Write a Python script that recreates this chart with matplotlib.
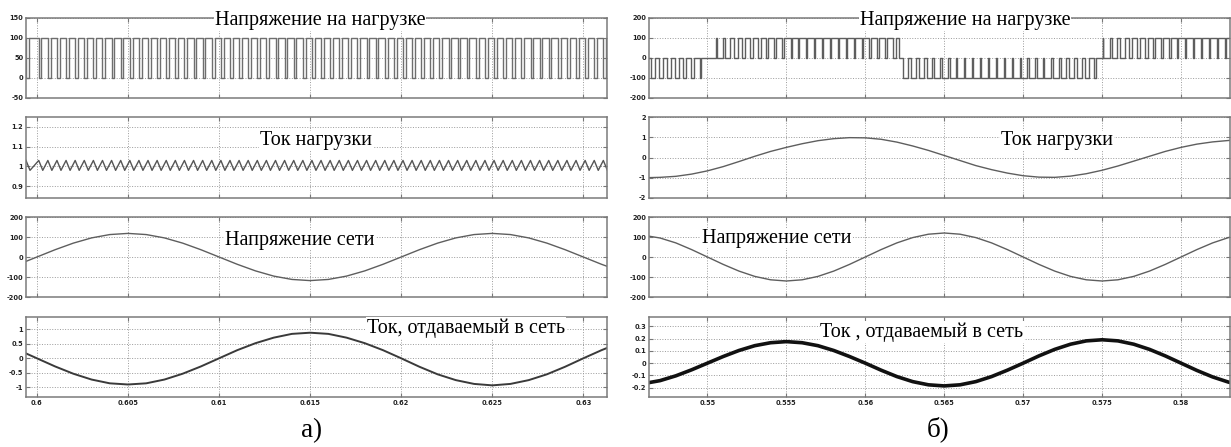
import numpy as np
import matplotlib.pyplot as plt

# ---------------- а) ----------------
# time grid of sampled (smooth) curves, 1 ms step
t_a = [0.599, 0.600, 0.601, 0.602, 0.603, 0.604, 0.605, 0.606, 0.607, 0.608,
       0.609, 0.610, 0.611, 0.612, 0.613, 0.614, 0.615, 0.616, 0.617, 0.618,
       0.619, 0.620, 0.621, 0.622, 0.623, 0.624, 0.625, 0.626, 0.627, 0.628,
       0.629, 0.630, 0.631, 0.632]
u_grid_a = [-36.5, 0, 36.5, 69.4, 95.5, 112.2, 118, 112.2, 95.5, 69.4,
            36.5, 0, -36.5, -69.4, -95.5, -112.2, -118, -112.2, -95.5, -69.4,
            -36.5, 0, 36.5, 69.4, 95.5, 112.2, 118, 112.2, 95.5, 69.4,
            36.5, 0, -36.5, -69.4]
i_grid_a = [0.28, 0, -0.28, -0.53, -0.73, -0.86, -0.9, -0.86, -0.73, -0.53,
            -0.28, 0, 0.28, 0.52, 0.71, 0.84, 0.88, 0.84, 0.71, 0.52,
            0.28, 0, -0.29, -0.55, -0.75, -0.88, -0.93, -0.88, -0.75, -0.55,
            -0.29, 0, 0.28, 0.53]

# load voltage: moments where it drops from 100 V to 0
fall_a = [0.5994,
          0.6001, 0.6006, 0.6011, 0.6016, 0.6021, 0.6026, 0.6031, 0.6036, 0.6041, 0.6046,
          0.6051, 0.6056, 0.6061, 0.6066, 0.6071, 0.6076, 0.6081, 0.6086, 0.6091, 0.6096,
          0.6101, 0.6106, 0.6111, 0.6116, 0.6121, 0.6126, 0.6131, 0.6136, 0.6141, 0.6146,
          0.6151, 0.6156, 0.6161, 0.6166, 0.6171, 0.6176, 0.6181, 0.6186, 0.6191, 0.6196,
          0.6201, 0.6206, 0.6211, 0.6216, 0.6221, 0.6226, 0.6231, 0.6236, 0.6241, 0.6246,
          0.6251, 0.6256, 0.6261, 0.6266, 0.6271, 0.6276, 0.6281, 0.6286, 0.6291, 0.6296,
          0.6301, 0.6306, 0.6311]
low_a = 0.00015
u_high_a = 100
# load current zig-zag: peak at each drop, valley a bit later
i_peak_a, i_valley_a = 1.03, 0.98
i_fall_a = 0.00022

# ---------------- б) ----------------
t_b = [0.546, 0.547, 0.548, 0.549, 0.550, 0.551, 0.552, 0.553, 0.554, 0.555,
       0.556, 0.557, 0.558, 0.559, 0.560, 0.561, 0.562, 0.563, 0.564, 0.565,
       0.566, 0.567, 0.568, 0.569, 0.570, 0.571, 0.572, 0.573, 0.574, 0.575,
       0.576, 0.577, 0.578, 0.579, 0.580, 0.581, 0.582, 0.583, 0.584]
i_load_b = [-1.0, -0.98, -0.93, -0.82, -0.66, -0.45, -0.2, 0.06, 0.3, 0.5,
            0.68, 0.83, 0.93, 0.98, 0.97, 0.9, 0.76, 0.57, 0.35, 0.1,
            -0.15, -0.4, -0.6, -0.77, -0.9, -0.97, -0.98, -0.92, -0.8, -0.63,
            -0.42, -0.18, 0.06, 0.3, 0.5, 0.66, 0.77, 0.84, 0.88]
u_grid_b = [108, 95, 70.5, 37, 0, -37, -70.5, -97, -114, -120,
            -114, -97, -70.5, -37, 0, 37, 70.5, 97, 114, 120,
            114, 97, 70.5, 37, 0, -37, -70.5, -97, -114, -120,
            -114, -97, -70.5, -37, 0, 37, 70.5, 97, 114]
i_grid_b = [-0.165, -0.142, -0.103, -0.054, 0, 0.054, 0.103, 0.142, 0.166, 0.175,
            0.166, 0.142, 0.103, 0.054, 0, -0.057, -0.109, -0.15, -0.176, -0.185,
            -0.176, -0.15, -0.109, -0.057, 0, 0.059, 0.112, 0.154, 0.181, 0.19,
            0.181, 0.154, 0.112, 0.059, 0, -0.059, -0.112, -0.154, -0.181]

# load voltage: PWM carrier periods and signed duty of each pulse
carrier_b = [0.5463, 0.5468, 0.5473, 0.5478, 0.5483, 0.5488, 0.5493, 0.5498, 0.5503, 0.5508,
             0.5513, 0.5518, 0.5523, 0.5528, 0.5533, 0.5538, 0.5543, 0.5548, 0.5553, 0.5558,
             0.5563, 0.5568, 0.5573, 0.5578, 0.5583, 0.5588, 0.5593, 0.5598, 0.5603, 0.5608,
             0.5613, 0.5618, 0.5623, 0.5628, 0.5633, 0.5638, 0.5643, 0.5648, 0.5653, 0.5658,
             0.5663, 0.5668, 0.5673, 0.5678, 0.5683, 0.5688, 0.5693, 0.5698, 0.5703, 0.5708,
             0.5713, 0.5718, 0.5723, 0.5728, 0.5733, 0.5738, 0.5743, 0.5748, 0.5753, 0.5758,
             0.5763, 0.5768, 0.5773, 0.5778, 0.5783, 0.5788, 0.5793, 0.5798, 0.5803, 0.5808,
             0.5813, 0.5818, 0.5823, 0.5828]
duty_b = [-0.5, -0.55, -0.55, -0.5, -0.45, -0.35, -0.15, 0, 0.15, 0.3,
          0.45, 0.55, 0.6, 0.65, 0.7, 0.75, 0.8, 0.85, 0.85, 0.9,
          0.9, 0.9, 0.9, 0.9, 0.9, 0.85, 0.85, 0.85, 0.8, 0.8,
          0.75, 0.3, -0.6, -0.55, -0.6, -0.65, -0.7, -0.75, -0.8, -0.85,
          -0.85, -0.9, -0.9, -0.9, -0.9, -0.9, -0.9, -0.85, -0.85, -0.8,
          -0.8, -0.75, -0.7, -0.7, -0.65, -0.6, -0.3, 0.1, 0.2, 0.35,
          0.5, 0.6, 0.65, 0.7, 0.75, 0.8, 0.85, 0.85, 0.9, 0.9,
          0.9, 0.9, 0.9, 0.9]
period_b = 0.0005
u_amp_b = 100

titles = ['Напряжение на нагрузке', 'Ток нагрузки', 'Напряжение сети', 'Ток, отдаваемый в сеть']
titles_b = ['Напряжение на нагрузке', 'Ток нагрузки', 'Напряжение сети', 'Ток , отдаваемый в сеть']

# ---- build step signals ----
ua_x, ua_y = [], []
ia_x, ia_y = [], []
for f in fall_a:
    ua_x += [f, f, f + low_a, f + low_a]
    ua_y += [u_high_a, 0, 0, u_high_a]
    ia_x += [f, f + i_fall_a]
    ia_y += [i_peak_a, i_valley_a]
ua_x.append(t_a[-1]); ua_y.append(u_high_a)
ia_x.append(t_a[-1]); ia_y.append(1.01)

ub_x, ub_y = [carrier_b[0]], [0]
for t, d in zip(carrier_b, duty_b):
    if d == 0:
        continue
    c = t + period_b / 2
    h = abs(d) * period_b / 2
    lvl = np.sign(d) * u_amp_b
    ub_x += [c - h, c - h, c + h, c + h]
    ub_y += [0, lvl, lvl, 0]
ub_x.append(carrier_b[-1] + period_b); ub_y.append(0)

# ---- figure ----
W, H = 1231, 447
fig = plt.figure(figsize=(W / 100, H / 100), dpi=100)
rows = [(18, 98), (117, 198), (217, 297), (317, 397)]


def make_ax(x0, x1, yt, yb):
    return fig.add_axes([x0 / W, 1 - yb / H, (x1 - x0) / W, (yb - yt) / H])


def style(ax, xlim, xticks, xlabels, ylim, yticks, ylabels, show_x):
    ax.set_xlim(xlim)
    ax.set_ylim(ylim)
    ax.set_xticks(xticks)
    ax.set_xticklabels(xlabels if show_x else [])
    ax.set_yticks(yticks)
    ax.set_yticklabels(ylabels)
    ax.grid(True, linestyle=':', color='#9a9a9a', linewidth=0.7)
    ax.tick_params(direction='in', length=3, width=0.8, top=True, right=True,
                   labelsize=4.8, pad=2, color='#777777', labelcolor='#222222')
    for lbl in ax.get_xticklabels() + ax.get_yticklabels():
        lbl.set_fontweight('bold')
    for s in ax.spines.values():
        s.set_color('#7a7a7a')
        s.set_linewidth(1.1)


xlim_a = (0.5994, 0.6313)
xt_a = [0.6, 0.605, 0.61, 0.615, 0.62, 0.625, 0.63]
xl_a = ['0.6', '0.605', '0.61', '0.615', '0.62', '0.625', '0.63']
xlim_b = (0.5463, 0.5831)
xt_b = [0.55, 0.555, 0.56, 0.565, 0.57, 0.575, 0.58]
xl_b = ['0.55', '0.555', '0.56', '0.565', '0.57', '0.575', '0.58']

# left column
ax = make_ax(26, 607, *rows[0])
ax.plot(ua_x, ua_y, color='#6e6e6e', lw=1.0)
style(ax, xlim_a, xt_a, xl_a, (-50, 150), [-50, 0, 50, 100, 150],
      ['-50', '0', '50', '100', '150'], False)

ax = make_ax(26, 607, *rows[1])
ax.plot(ia_x, ia_y, color='#555555', lw=1.0)
style(ax, xlim_a, xt_a, xl_a, (0.84, 1.25), [0.9, 1.0, 1.1, 1.2],
      ['0.9', '1', '1.1', '1.2'], False)

ax = make_ax(26, 607, *rows[2])
ax.plot(t_a, u_grid_a, color='#5e5e5e', lw=1.0)
style(ax, xlim_a, xt_a, xl_a, (-200, 200), [-200, -100, 0, 100, 200],
      ['-200', '-100', '0', '100', '200'], False)

ax = make_ax(26, 607, *rows[3])
ax.plot(t_a, i_grid_a, color='#3a3a3a', lw=1.4)
style(ax, xlim_a, xt_a, xl_a, (-1.33, 1.42), [-1, -0.5, 0, 0.5, 1],
      ['-1', '-0.5', '0', '0.5', '1'], True)

# right column
ax = make_ax(649, 1230, *rows[0])
ax.plot(ub_x, ub_y, color='#5e5e5e', lw=1.0)
style(ax, xlim_b, xt_b, xl_b, (-200, 200), [-200, -100, 0, 100, 200],
      ['-200', '-100', '0', '100', '200'], False)

ax = make_ax(649, 1230, *rows[1])
ax.plot(t_b, i_load_b, color='#5e5e5e', lw=1.0)
style(ax, xlim_b, xt_b, xl_b, (-2, 2), [-2, -1, 0, 1, 2],
      ['-2', '-1', '0', '1', '2'], False)

ax = make_ax(649, 1230, *rows[2])
ax.plot(t_b, u_grid_b, color='#5e5e5e', lw=1.0)
style(ax, xlim_b, xt_b, xl_b, (-200, 200), [-200, -100, 0, 100, 200],
      ['-200', '-100', '0', '100', '200'], False)

ax = make_ax(649, 1230, *rows[3])
ax.plot(t_b, i_grid_b, color='#111111', lw=2.6)
style(ax, xlim_b, xt_b, xl_b, (-0.275, 0.375), [-0.2, -0.1, 0, 0.1, 0.2, 0.3],
      ['-0.2', '-0.1', '0', '0.1', '0.2', '0.3'], True)

# captions (pixel centres)
pos_a = [(320, 21), (316, 141), (300, 240), (466, 328)]
pos_b = [(965, 21), (1057, 141), (777, 238), (922, 332)]
box = dict(facecolor='white', edgecolor='none', pad=0.6)
for s, (x, y) in zip(titles, pos_a):
    fig.text(x / W, 1 - y / H, s, ha='center', va='center', fontsize=14.5,
             family='Liberation Serif', bbox=box)
for s, (x, y) in zip(titles_b, pos_b):
    fig.text(x / W, 1 - y / H, s, ha='center', va='center', fontsize=14.5,
             family='Liberation Serif', bbox=box)

fig.text(312 / W, 1 - 431 / H, 'а)', ha='center', va='center', fontsize=19.5,
         family='Liberation Serif')
fig.text(938 / W, 1 - 429 / H, 'б)', ha='center', va='center', fontsize=19.5,
         family='Liberation Serif')

fig.savefig('out.png', dpi=100)
